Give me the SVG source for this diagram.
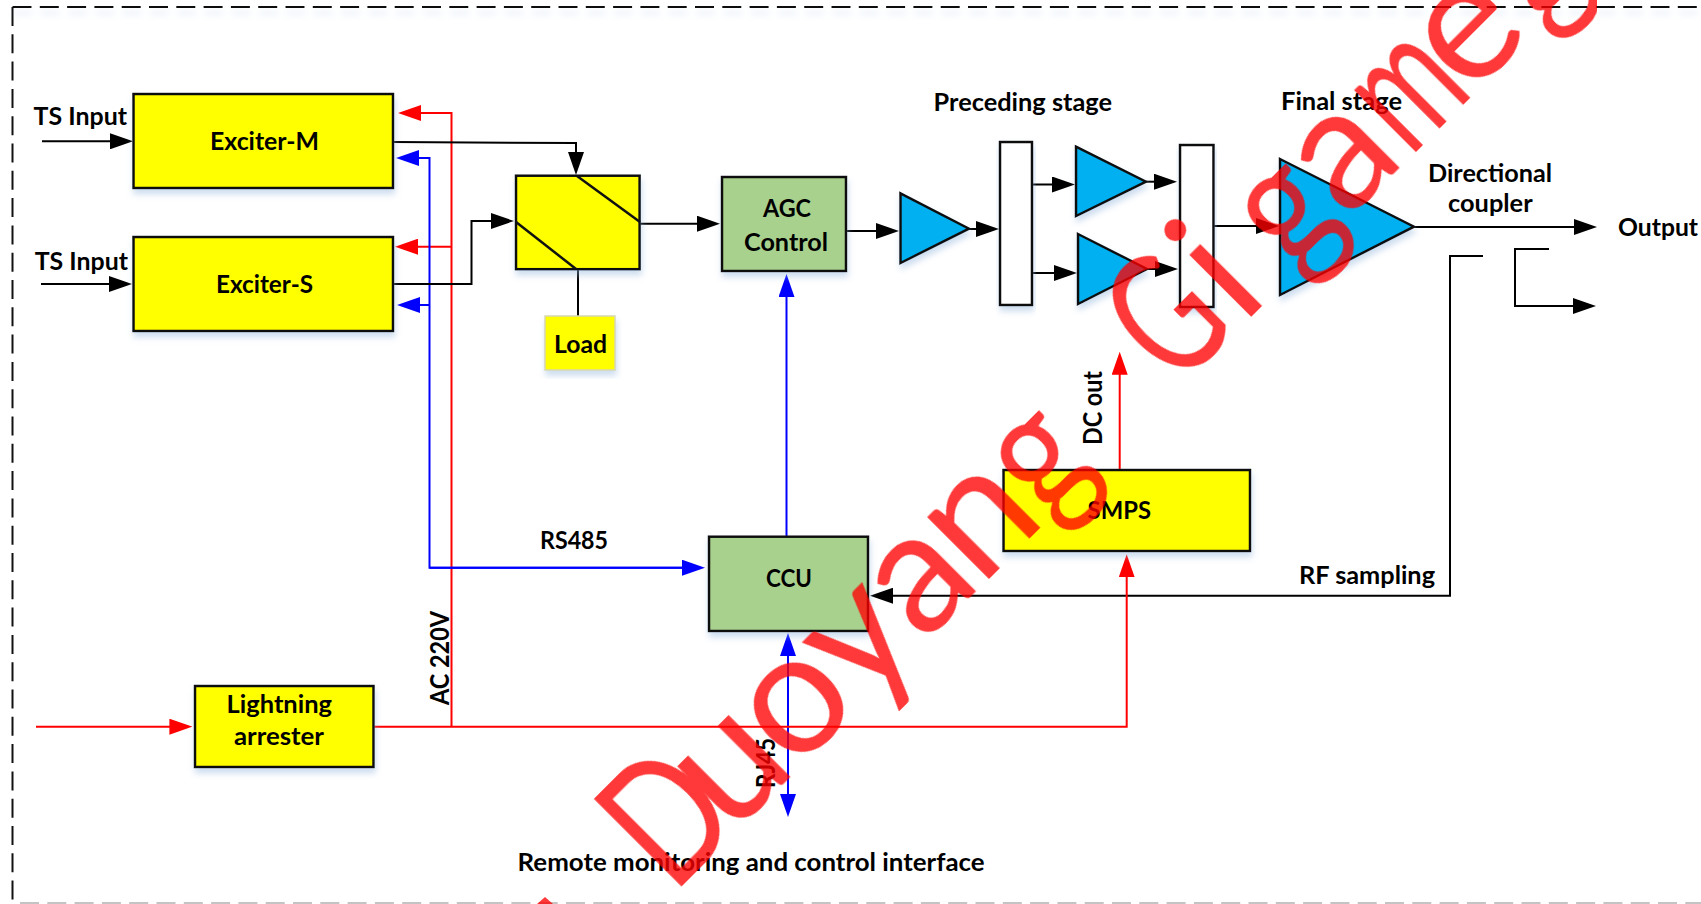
<svg xmlns="http://www.w3.org/2000/svg" width="1701" height="904" viewBox="0 0 1701 904">
<style>
.n{stroke:#111;stroke-width:2.5;filter:url(#sh)}
.y{fill:#ffff00}.g{fill:#a9d18e}.c{fill:#00b0f0}.w{fill:#fff}
text{font-family:"Lato","Open Sans","Liberation Sans",sans-serif;font-weight:700;font-size:24px;fill:#000}
.k,.r,.b{fill:none;stroke-width:2}
.k{stroke:#000}.r{stroke:#f00}.b{stroke:#00f}
.ka{marker-end:url(#ak)}.ra{marker-end:url(#ar)}.ba{marker-end:url(#ab)}
text.wm{font-family:"Lato","Liberation Sans",sans-serif;font-weight:400;font-size:172px;fill:#f00}
</style>
<defs>
<filter id="sh" x="-10%" y="-10%" width="120%" height="125%"><feDropShadow dx="1" dy="5" stdDeviation="3" flood-color="#8fb4dc" flood-opacity=".45"/></filter>
<filter id="sh2" filterUnits="userSpaceOnUse" x="0" y="0" width="1701" height="30"><feDropShadow dx="1" dy="6" stdDeviation="3" flood-color="#8fb4dc" flood-opacity=".35"/></filter>
<marker id="ak" markerUnits="userSpaceOnUse" markerWidth="23" markerHeight="16" refX="18" refY="8" orient="auto-start-reverse"><path d="M0 0L23 8L0 16z" fill="#000"/></marker>
<marker id="ar" markerUnits="userSpaceOnUse" markerWidth="23" markerHeight="16" refX="18" refY="8" orient="auto-start-reverse"><path d="M0 0L23 8L0 16z" fill="#f00"/></marker>
<marker id="ab" markerUnits="userSpaceOnUse" markerWidth="23" markerHeight="16" refX="18" refY="8" orient="auto-start-reverse"><path d="M0 0L23 8L0 16z" fill="#00f"/></marker>
<clipPath id="wc"><rect x="0" y="0" width="1597" height="904"/></clipPath>
</defs>
<rect width="1701" height="904" fill="#fff"/>
<g id="frame" fill="none" stroke-width="2">
<path d="M12.5 7V904" stroke="#111" stroke-dasharray="19 8.3"/>
<path d="M12.5 7H1701" stroke="#111" stroke-dasharray="19 8.3" filter="url(#sh2)"/>
<path d="M20 903H1701" stroke="#c4c4c4" stroke-dasharray="19 8.3"/>
</g>
<g id="connectors">
<path class="k ka" d="M42 141.3H128"/>
<path class="k ka" d="M41 284H127"/>
<path class="r ra" d="M451.5 726.7V113H403"/>
<path class="r ra" d="M451.5 246.7H400"/>
<path class="b ba" d="M682 567.7H429.5V158H401"/>
<path class="b ba" d="M429.5 305H402"/>
<path class="b ba" d="M429.5 567.7H700"/>
<path class="k ka" d="M393 142L576 143V170"/>
<path class="k ka" d="M393 284H471.5V221H509"/>
<path class="k" d="M578 269V316"/>
<path class="k ka" d="M640 223.7H715"/>
<path class="k ka" d="M846 231H894"/>
<path class="k ka" d="M969 229H994"/>
<path class="k ka" d="M1032 184.5H1070"/>
<path class="k ka" d="M1032 273H1072"/>
<path class="k ka" d="M1146 181.7H1172"/>
<path class="k ka" d="M1147 269H1173"/>
<path class="k ka" d="M1213.5 226H1274"/>
<path class="k ka" d="M1414 227H1592"/>
<path class="k ka" d="M1549 249H1515V306H1591"/>
<path class="k ka" d="M1483 256H1450V595.7H875"/>
<path class="b ba" d="M786.5 537V279"/>
<path class="b" d="M788 638V812" style="marker-start:url(#ab);marker-end:url(#ab)"/>
<path class="r ra" d="M36 726.7H187.4"/>
<path class="r ra" d="M373.5 726.7H1126.7V559.3"/>
<path class="r ra" d="M1119.7 470V356.7"/>
</g>
<g id="exciter-m"><rect class="n y" x="133.5" y="94" width="259.5" height="94"/><text x="210" y="150" textLength="109" lengthAdjust="spacingAndGlyphs">Exciter-M</text></g>
<g id="exciter-s"><rect class="n y" x="133.5" y="237" width="259.5" height="94"/><text x="216" y="293" textLength="97" lengthAdjust="spacingAndGlyphs">Exciter-S</text></g>
<g id="switch"><rect class="n y" x="516" y="175.7" width="123.6" height="93.5"/><path d="M577 176L640 222M516 222L576 269" fill="none" stroke="#111" stroke-width="2.5"/></g>
<g id="load"><rect x="545" y="316" width="70" height="54" fill="#ffff00" stroke="#d8d8b0" stroke-width="1.5" style="filter:url(#sh)"/><text x="554" y="353" textLength="53" lengthAdjust="spacingAndGlyphs">Load</text></g>
<g id="agc"><rect class="n g" x="722" y="177" width="124" height="94"/><text x="763" y="217" textLength="48" lengthAdjust="spacingAndGlyphs">AGC</text><text x="744" y="251" textLength="84" lengthAdjust="spacingAndGlyphs">Control</text></g>
<g id="ccu"><rect class="n g" x="709" y="536.7" width="159" height="94.3"/><text x="766" y="587" textLength="46" lengthAdjust="spacingAndGlyphs">CCU</text></g>
<g id="smps"><rect class="n y" x="1003.5" y="470" width="246.5" height="81"/><text x="1087.6" y="519" textLength="63.4" lengthAdjust="spacingAndGlyphs">SMPS</text></g>
<g id="arrester"><rect class="n y" x="195" y="686" width="178.5" height="81"/><text x="226.6" y="713" textLength="105.4" lengthAdjust="spacingAndGlyphs">Lightning</text><text x="234" y="745" textLength="90" lengthAdjust="spacingAndGlyphs">arrester</text></g>
<g id="amp1"><polygon class="n c" points="900.5,193.3 969,228.7 900.5,263"/></g>
<g id="bar1"><rect class="n w" x="1000" y="142" width="32" height="163"/></g>
<g id="amp2"><polygon class="n c" points="1076,146.7 1146,181.7 1076,216"/></g>
<g id="amp3"><polygon class="n c" points="1078,234 1147,269 1078,304"/></g>
<g id="bar2"><rect class="n w" x="1180" y="145" width="33.5" height="162"/></g>
<g id="amp4"><polygon class="n c" points="1280,159 1414,226.7 1280,295"/></g>
<g id="labels">
<text x="33.6" y="125" textLength="93.4" lengthAdjust="spacingAndGlyphs">TS Input</text>
<text x="34.7" y="270" textLength="93.3" lengthAdjust="spacingAndGlyphs">TS Input</text>
<text x="933.6" y="111" textLength="178.4" lengthAdjust="spacingAndGlyphs">Preceding stage</text>
<text x="1281" y="110" textLength="121" lengthAdjust="spacingAndGlyphs">Final stage</text>
<text x="1428" y="182" textLength="124" lengthAdjust="spacingAndGlyphs">Directional</text>
<text x="1448" y="212" textLength="84.6" lengthAdjust="spacingAndGlyphs">coupler</text>
<text x="1618" y="236" textLength="80" lengthAdjust="spacingAndGlyphs">Output</text>
<text x="540" y="549" textLength="68" lengthAdjust="spacingAndGlyphs">RS485</text>
<text x="517.6" y="871" textLength="467" lengthAdjust="spacingAndGlyphs">Remote monitoring and control interface</text>
<text x="1299" y="584" textLength="136" lengthAdjust="spacingAndGlyphs">RF sampling</text>
<text transform="translate(449 705) rotate(-90)" textLength="94" lengthAdjust="spacingAndGlyphs" style="font-size:26px">AC 220V</text>
<text transform="translate(1102 445) rotate(-90)" textLength="74" lengthAdjust="spacingAndGlyphs" style="font-size:26px">DC out</text>
<text transform="translate(775 788) rotate(-90)" textLength="50" lengthAdjust="spacingAndGlyphs" style="font-size:26px">RJ45</text>
</g>
<g id="watermark" opacity=".78" clip-path="url(#wc)">
<text class="wm" transform="translate(670 898) rotate(-45)"><tspan x="4" textLength="102" lengthAdjust="spacingAndGlyphs">D</tspan><tspan x="87 177 272 359 439">uoyan</tspan><tspan x="533" textLength="76" lengthAdjust="spacingAndGlyphs">g</tspan><tspan x="620"> </tspan><tspan x="718" textLength="87" lengthAdjust="spacingAndGlyphs">G</tspan><tspan x="809">i</tspan><tspan x="882" textLength="76" lengthAdjust="spacingAndGlyphs">g</tspan><tspan x="958">a</tspan><tspan x="1047" textLength="92" lengthAdjust="spacingAndGlyphs">m</tspan><tspan x="1131">e</tspan><tspan x="1229" textLength="76" lengthAdjust="spacingAndGlyphs">g</tspan></text>
<polygon points="545,897 553,904 537,904" fill="#f00"/>
</g>
</svg>
